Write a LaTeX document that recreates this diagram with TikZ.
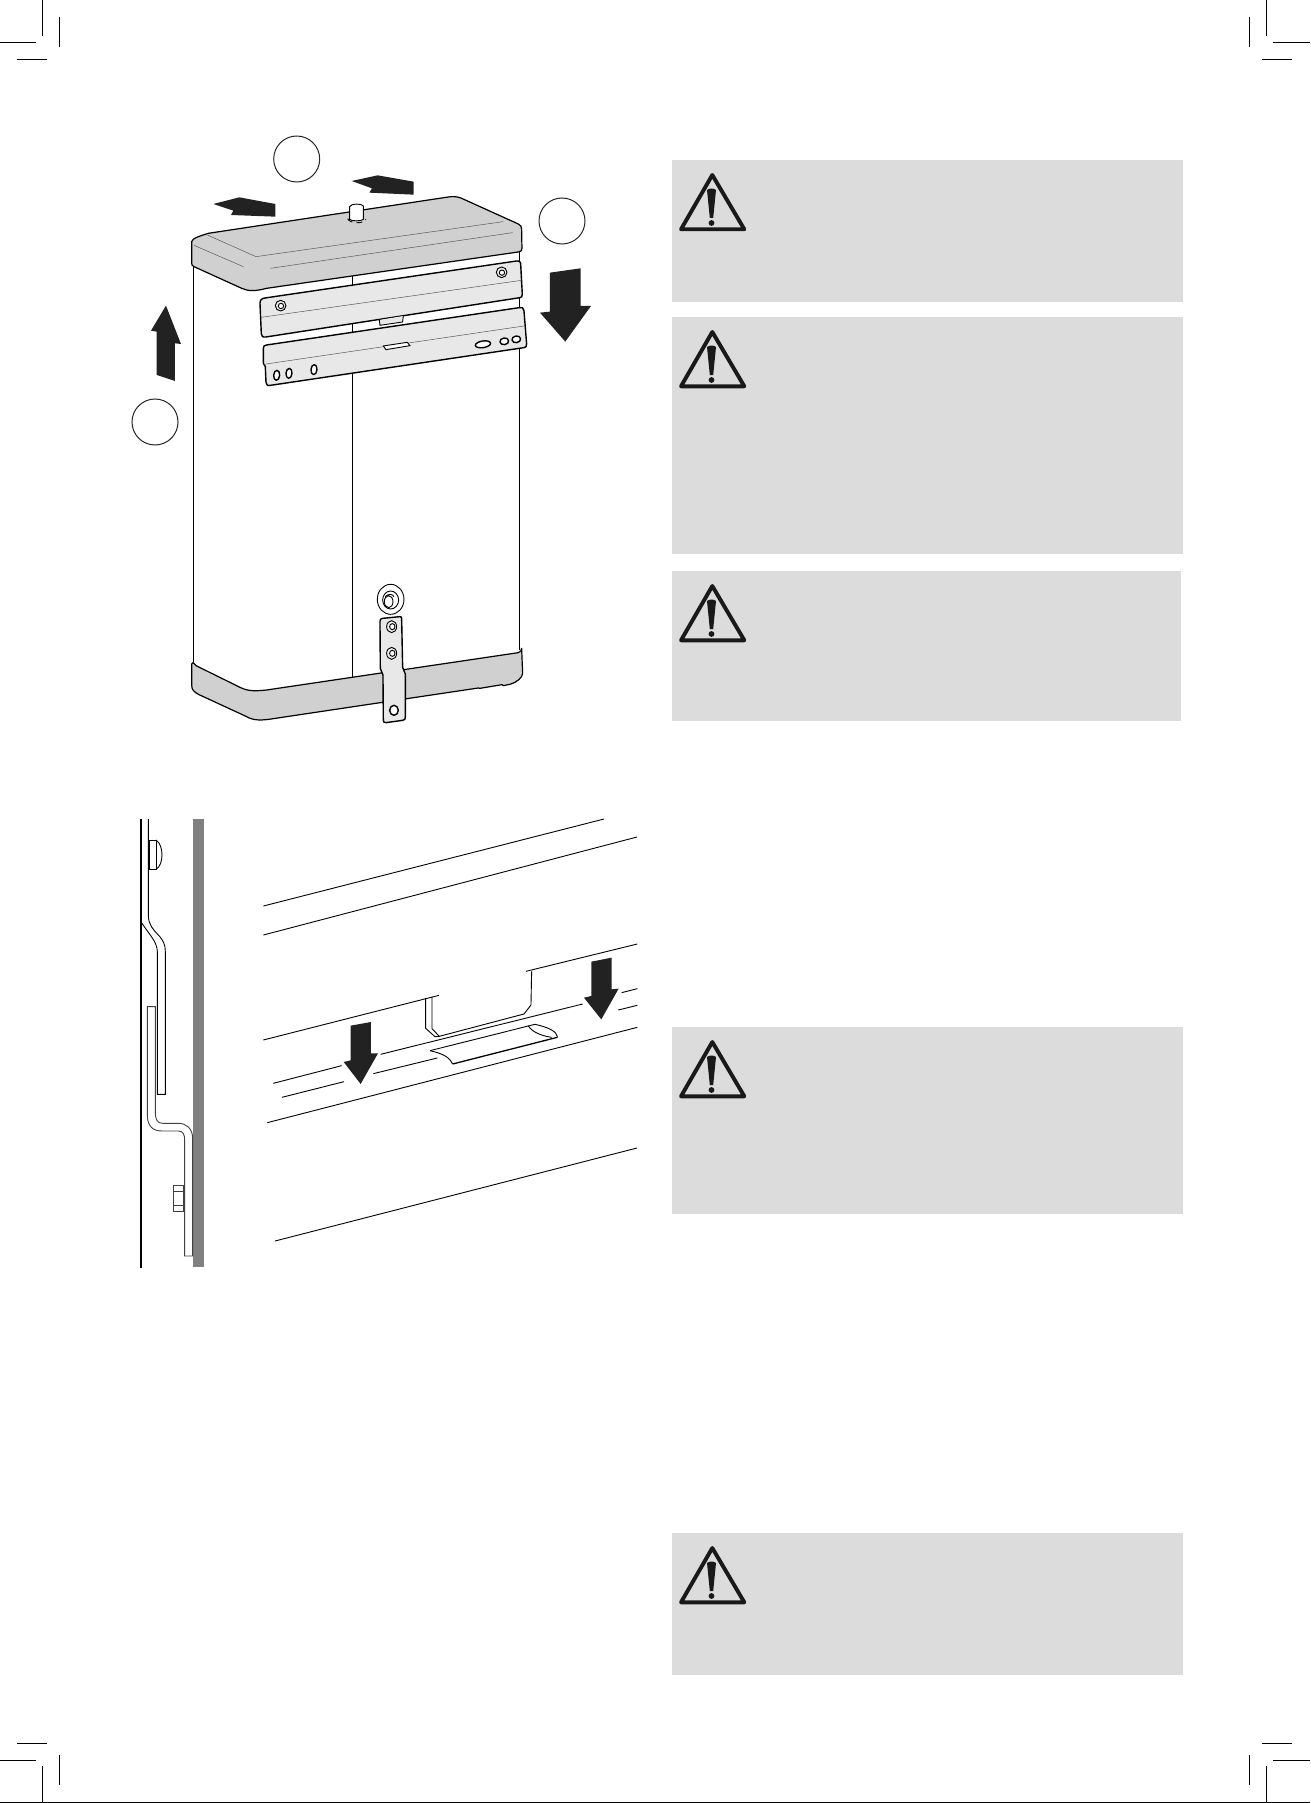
\documentclass[tikz,border=0pt]{standalone}
\usepackage{tikz}
\definecolor{lidgray}{HTML}{D0D0D0}
\definecolor{plategray}{HTML}{E8E8E8}
\definecolor{panelgray}{HTML}{DCDCDC}
\definecolor{arrowblack}{HTML}{222222}
\definecolor{wallgray}{HTML}{808080}
\tikzset{
  crop/.style = {black, line width=1pt},
  ring/.style = {draw=black!85, line width=1pt, circle, minimum size=46pt, inner sep=0pt, fill=white},
  shell/.style = {draw=black, line width=1.2pt, line join=round},
  heavy/.style = {draw=black, line width=1.4pt, line join=round},
  fine/.style = {draw=black!65, line width=.5pt},
  thin line/.style = {draw=black, line width=.9pt},
  arrowshape/.style = {fill=arrowblack},
  panel/.style = {fill=panelgray},
  zoomA/.style = {shift={(120,120)}, x=.3333pt, y=-.3333pt},
  zoomB/.style = {shift={(170,560)}, x=.3333pt, y=-.3333pt},
  zoomC/.style = {shift={(120,810)}, x=.3333pt, y=-.3333pt},
  zoomD/.style = {shift={(250,930)}, x=.3333pt, y=-.3333pt}
}
\begin{document}
\begin{tikzpicture}[x=1pt, y=-1pt]
\useasboundingbox (0,0) rectangle (1310,1803);
% crop marks
\foreach \xa/\xb/\xc/\xd/\xe/\xf in {42.5/59.5/0/36/17/47, 1266.5/1249.5/1273/1310/1262/1292} {
  \draw[crop] (\xa,0) -- (\xa,36);
  \draw[crop] (\xb,17) -- (\xb,47);
  \draw[crop] (\xc,42.5) -- (\xd,42.5);
  \draw[crop] (\xe,59.5) -- (\xf,59.5);
  \draw[crop] (\xa,1766) -- (\xa,1803);
  \draw[crop] (\xb,1755) -- (\xb,1785);
  \draw[crop] (\xc,1760.5) -- (\xd,1760.5);
  \draw[crop] (\xe,1743.5) -- (\xf,1743.5);
}
\draw[crop] (0,1802.5) -- (1310,1802.5);
% warning panels
\foreach \top/\bot/\rgt in {160/302/1183, 317/554/1183, 571/721/1181, 1027/1214/1183, 1533/1675/1183} {
  \fill[panel] (672,\top) rectangle (\rgt,\bot);
  \begin{scope}[shift={(672,\top)}]
    \draw[black!90, line width=3.9pt, line join=round] (9,69.3) -- (40.3,15) -- (72.3,69.3) -- cycle;
    \fill[black!90] (35,30) .. controls (37,28) and (42,28) .. (44,30) -- (41.2,58) -- (37.8,58) -- cycle;
    \fill[black!90] (39.5,63) circle (2.9);
  \end{scope}
}
% cabinet
\draw[shell] (193.6,262) -- (193.6,664);
\draw[thin line] (352.3,270) -- (352.3,678);
\draw[thin line] (519.7,250) -- (519.7,650);
\begin{scope}[zoomA]
  % lid
  \draw[shell, fill=lidgray] (215,365) .. controls (216,355) and (240,348) .. (265,340) -- (985,231)
    .. controls (1000,229) and (1010,229) .. (1025,235) -- (1195,312) .. controls (1203,316) and (1205,320) .. (1205,328)
    -- (1206,385) .. controls (1206,392) and (1203,395) .. (1195,396) -- (440,505)
    .. controls (410,513) and (385,515) .. (365,505) -- (222,440) .. controls (216,437) and (215,435) .. (215,428) -- cycle;
  \draw[fine] (262,345) -- (408,410) -- (1150,305);
  \draw[fine] (222,376) -- (370,440);
  \draw[fine] (452,445) -- (1178,338);
  % knob
  \draw[thin line, fill=white] (689,260) .. controls (692,250) and (726,250) .. (730,258) -- (730,298)
    .. controls (726,304) and (692,304) .. (689,298) -- cycle;
  \draw[thin line, dash pattern=on 6pt off 4pt] (683,296) .. controls (690,312) and (730,312) .. (738,298);
  % upper plate
  \draw[heavy, fill=plategray] (420,550) .. controls (420,540) and (425,535) .. (435,534) -- (1190,423)
    .. controls (1198,421) and (1201,424) .. (1202,430) -- (1207,522) .. controls (1207,530) and (1205,532) .. (1200,533)
    -- (438,651) .. controls (428,652) and (425,650) .. (424,642) -- cycle;
  \draw[fine] (424,592) -- (1205,481);
  \draw[thin line, fill=plategray] (778,600) -- (780,616) -- (848,606) -- (850,588);
  \foreach \cx/\cy in {482/557, 1145/457} {
    \draw[thin line, fill=plategray] (\cx,\cy) circle (16);
    \draw[thin line, fill=white] (\cx+1,\cy+1) circle (8);
  }
  % lower plate
  \draw[heavy, fill=plategray] (430,685) .. controls (430,678) and (433,676) .. (440,675) -- (1198,563)
    .. controls (1206,561) and (1211,563) .. (1212,572) -- (1220,672) .. controls (1220,680) and (1218,682) .. (1212,683)
    -- (452,796) .. controls (442,798) and (439,795) .. (438,787) -- (436,740) -- (430,730) -- cycle;
  \draw[fine] (432,733) -- (1212,618);
  \draw[thin line, fill=white] (790,678) -- (862,667) -- (870,677) -- (798,689) -- cycle;
  \foreach \cx/\cy/\rx/\ry/\rot in {470/766/9/15/-5, 507/760/9/15/-5, 582/749/9/15/-5, 1089/673/23/10/9, 1153/664/13/10/9, 1189/658/13/10/9} {
    \draw[heavy, fill=white] (\cx,\cy) ellipse[x radius=\rx, y radius=\ry, rotate=\rot];
  }
  % arrows
  \fill[arrowshape] (280,252) -- (358,232) -- (466,252) -- (466,290) -- (333,285) -- (340,272) -- cycle;
  \fill[arrowshape] (695,183) -- (773,166) -- (881,185) -- (881,224) -- (748,218) -- (756,205) -- cycle;
  \fill[arrowshape] (1290,458) -- (1382,445) -- (1382,558) -- (1413,558) -- (1336,665) -- (1260,578) -- (1290,575) -- cycle;
  \fill[arrowshape] (138,557) -- (183,672) -- (165,670) -- (165,783) -- (110,765) -- (110,635) -- (93,632) -- cycle;
\end{scope}
% callout rings
\node[ring] (ringtop) at (296.7,159) {};
\node[ring] (ringright) at (562,221) {};
\node[ring] (ringleft) at (155,422) {};
% base and strap
\begin{scope}[zoomB]
  \draw[shell, fill=lidgray] (65,312) .. controls (65,306) and (70,306) .. (78,317) -- (210,382)
    .. controls (235,395) and (260,393) .. (290,390) -- (1045,278) .. controls (1052,276) and (1055,270) .. (1055,265)
    -- (1058,340) .. controls (1058,352) and (1040,368) .. (1020,373) -- (1000,377) -- (996,374) -- (930,385) -- (925,384)
    -- (310,476) .. controls (275,482) and (250,482) .. (230,470) -- (85,403) .. controls (72,395) and (65,390) .. (65,375) -- cycle;
  \draw[heavy, fill=plategray] (630,185) .. controls (630,178) and (632,176) .. (638,175) -- (690,170)
    .. controls (694,170) and (695,172) .. (695,176) -- (698,322) -- (706,342) -- (706,472)
    .. controls (706,478) and (704,480) .. (698,481) -- (648,488) .. controls (642,488) and (640,486) .. (640,480)
    -- (639,345) -- (631,325) -- cycle;
  \foreach \cx/\cy in {665/200, 665/280} {
    \draw[thin line, fill=plategray] (\cx,\cy) ellipse[x radius=15, y radius=18];
    \draw[thin line, fill=white] (\cx+2,\cy) ellipse[x radius=8, y radius=9];
  }
  \draw[heavy, fill=white] (672,451) ellipse[x radius=13, y radius=15];
  % bushing
  \draw[thin line, fill=white] (662,118) ellipse[x radius=40, y radius=45];
  \draw[thin line, fill=white] (662,120) ellipse[x radius=24, y radius=27];
  \draw[thin line] (656,125) ellipse[x radius=13, y radius=18];
  \draw[thin line] (646,110) .. controls (655,100) and (668,102) .. (672,110);
\end{scope}
% section view
\begin{scope}[zoomC]
  \fill[wallgray] (218,27) rectangle (251,1372);
  \draw[black, line width=1.5pt] (63,27) -- (63,1375);
  \draw[thin line] (85,27) -- (85,318) .. controls (86,345) and (100,360) .. (118,378)
    .. controls (130,392) and (136,405) .. (136,425) -- (136,853) -- (112,853) -- (112,425)
    .. controls (112,395) and (85,370) .. (66,340);
  \draw[draw=black!75, line width=.9pt] (106,590) -- (82,590) -- (82,915) .. controls (82,950) and (100,963) .. (125,963)
    -- (175,963) .. controls (190,963) and (194,975) .. (194,990) -- (194,1338) -- (218,1338)
    -- (218,985) .. controls (218,955) and (198,940) .. (175,940) -- (128,940)
    .. controls (112,940) and (106,930) .. (106,905) -- cycle;
  \draw[thin line] (88,90) rectangle (108,178);
  \draw[thin line] (108,90) .. controls (132,105) and (132,165) .. (108,178);
  \draw[draw=black!75, line width=.9pt] (160,1125) rectangle (190,1203);
  \draw[draw=black!75, line width=.7pt] (160,1145) -- (190,1145);
  \draw[draw=black!75, line width=.7pt] (160,1185) -- (190,1185);
\end{scope}
% rail detail
\begin{scope}[zoomD]
  \draw[thin line] (40,330) -- (567,196);
  \draw[thin line] (828,124) -- (1162,42);
  \draw[thin line] (845,124) -- (843,225) -- (822,252) -- (568,319) -- (546,296) -- (546,200);
  \draw[thin line] (527,205) -- (527,295) -- (555,320) -- (568,319);
  \draw[thin line] (70,460) -- (275,407);
  \draw[thin line] (392,373) -- (998,222);
  \draw[thin line] (1115,188) -- (1162,176);
  \draw[thin line] (96,502) -- (282,455);
  \draw[thin line] (370,431) -- (562,384);
  \draw[thin line] (1105,240) -- (1162,226);
  \draw[thin line] (52,578) -- (1162,292);
  \draw[thin line] (540,362) -- (835,288) .. controls (850,310) and (880,318) .. (905,322);
  \draw[thin line] (540,362) .. controls (585,372) and (600,385) .. (608,402);
  \draw[black, line width=1.3pt] (608,402) -- (922,322);
  \draw[thin line] (835,288) -- (855,283) .. controls (900,293) and (920,305) .. (923,322);
  \fill[arrowshape] (302,287) -- (363,276) -- (363,370) -- (384,370) -- (332,462) -- (281,396) -- (302,391) -- cycle;
  \fill[arrowshape] (1024,95) -- (1085,83) -- (1085,178) -- (1106,176) -- (1054,268) -- (1002,203) -- (1024,198) -- cycle;
\end{scope}
\draw[thin line] (263.4,906) -- (604,819);
\draw[thin line] (263.4,935) -- (637,837);
\draw[thin line] (275,1241) -- (637,1148);
\end{tikzpicture}
\end{document}
